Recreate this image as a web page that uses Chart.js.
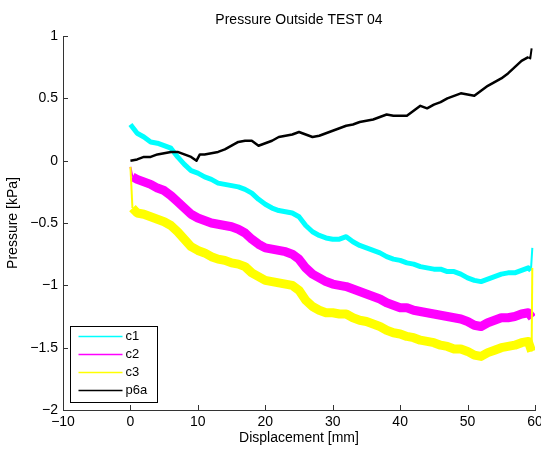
<!DOCTYPE html>
<html><head><meta charset="utf-8">
<script src="https://cdn.jsdelivr.net/npm/chart.js@4.4.0/dist/chart.umd.min.js"></script>
<style>html,body{margin:0;padding:0;background:#fff}canvas{display:block}</style>
</head><body>
<canvas id="c" width="541" height="449"></canvas>
<script>
const chartTitle = 'Pressure Outside TEST 04';
const xAxisTitle = 'Displacement [mm]';
const yAxisTitle = 'Pressure [kPa]';
const seriesNames = ['c1', 'c2', 'c3', 'p6a'];
const seriesColors = ['#00ffff', '#ff00ff', '#ffff00', '#000000'];
const xTicks = [-10, 0, 10, 20, 30, 40, 50, 60];
const yTicks = [-2, -1.5, -1, -0.5, 0, 0.5, 1];

const c1X = [0,1,2,3,4,5,6,7,8,9,10,11,12,13,14,15,16,17,18,19,20,21,22,23,24,25,26,27,28,29,30,31,32,33,34,35,36,37,38,39,40,41,42,43,44,45,46,47,48,49,50,51,52,53,54,55,56,57,58,59,59.4,59.6];
const c1Y = [0.29,0.22,0.19,0.15,0.14,0.12,0.10,0.03,-0.03,-0.08,-0.10,-0.13,-0.15,-0.18,-0.19,-0.20,-0.21,-0.23,-0.26,-0.31,-0.35,-0.38,-0.40,-0.41,-0.42,-0.45,-0.52,-0.57,-0.60,-0.62,-0.63,-0.63,-0.61,-0.65,-0.68,-0.70,-0.72,-0.74,-0.77,-0.79,-0.80,-0.82,-0.83,-0.85,-0.86,-0.87,-0.87,-0.89,-0.89,-0.91,-0.94,-0.96,-0.97,-0.95,-0.93,-0.91,-0.90,-0.90,-0.88,-0.86,-0.88,-0.70];

const c2X = [0,0.3,1,2,3,4,5,6,7,8,9,10,11,12,13,14,15,16,17,18,19,20,21,22,23,24,25,26,27,28,29,30,31,32,33,34,35,36,37,38,39,40,41,42,43,44,45,46,47,48,49,50,51,52,53,54,55,56,57,58,59,59.6];
const c2Y = [-0.05,-0.13,-0.15,-0.17,-0.19,-0.22,-0.24,-0.28,-0.33,-0.38,-0.43,-0.46,-0.48,-0.50,-0.51,-0.52,-0.53,-0.55,-0.58,-0.63,-0.67,-0.70,-0.71,-0.72,-0.73,-0.75,-0.79,-0.86,-0.91,-0.94,-0.97,-0.99,-1.00,-1.01,-1.03,-1.05,-1.07,-1.09,-1.11,-1.14,-1.16,-1.18,-1.18,-1.20,-1.21,-1.22,-1.23,-1.24,-1.25,-1.26,-1.27,-1.29,-1.32,-1.33,-1.30,-1.28,-1.26,-1.26,-1.25,-1.23,-1.22,-1.26];

const c3X = [0,0.3,1,2,3,4,5,6,7,8,9,10,11,12,13,14,15,16,17,18,19,20,21,22,23,24,25,26,27,28,29,30,31,32,33,34,35,36,37,38,39,40,41,42,43,44,45,46,47,48,49,50,51,52,53,54,55,56,57,58,59,59.5,59.6];
const c3Y = [-0.05,-0.38,-0.42,-0.43,-0.45,-0.47,-0.49,-0.52,-0.57,-0.63,-0.69,-0.72,-0.74,-0.77,-0.79,-0.80,-0.82,-0.83,-0.85,-0.90,-0.93,-0.96,-0.97,-0.98,-0.99,-1.00,-1.04,-1.12,-1.17,-1.20,-1.22,-1.22,-1.23,-1.23,-1.26,-1.28,-1.29,-1.31,-1.33,-1.36,-1.38,-1.39,-1.41,-1.42,-1.44,-1.45,-1.46,-1.48,-1.49,-1.51,-1.51,-1.53,-1.56,-1.57,-1.54,-1.52,-1.50,-1.49,-1.48,-1.46,-1.45,-1.53,-0.86];

const p6aX = [0,1,2,3,4,5,6,7,8,9,9.8,10.3,11,12,13,14,15,16,17,18,19,20,21,22,23,24,25,26,27,28,29,30,31,32,33,34,35,36,37,38,39,40,41,42,43,44,45,46,47,48,49,50,51,52,53,54,55,56,57,58,59,59.3,59.5];
const p6aY = [0.00,0.01,0.03,0.03,0.05,0.06,0.07,0.07,0.05,0.03,0.00,0.05,0.05,0.06,0.07,0.09,0.12,0.15,0.16,0.16,0.12,0.14,0.16,0.19,0.20,0.21,0.23,0.21,0.19,0.20,0.22,0.24,0.26,0.28,0.29,0.31,0.32,0.33,0.35,0.37,0.36,0.36,0.36,0.40,0.44,0.42,0.45,0.47,0.50,0.52,0.54,0.53,0.52,0.56,0.60,0.63,0.66,0.70,0.75,0.80,0.83,0.82,0.90];

const seriesX = [c1X, c2X, c3X, p6aX];
const seriesY = [c1Y, c2Y, c3Y, p6aY];
const lineWidths = [5, 9, 9, 2.5];

const FONT = '"Liberation Sans", Arial, sans-serif';
const fmt = v => String(v).replace('-', '\u2212');

const datasets = seriesNames.map((name, i) => ({
  label: name,
  data: seriesX[i].map((x, j) => ({x: x, y: seriesY[i][j]})),
  borderColor: seriesColors[i],
  backgroundColor: seriesColors[i],
  borderWidth: lineWidths[i],
  pointRadius: 0,
  tension: 0,
  fill: false,
  borderJoinStyle: 'round',
  borderCapStyle: 'butt',
  segment: {
    // thin single strokes where the trace jumps almost vertically
    borderWidth: ctx => {
      const dx = Math.abs(ctx.p1.parsed.x - ctx.p0.parsed.x);
      return dx < 0.35 ? 2 : lineWidths[i];
    }
  },
  order: 4 - i
}));

const decor = {
  id: 'decor',
  afterDraw(chart) {
    const ctx = chart.ctx, ca = chart.chartArea;
    const xs = chart.scales.x, ys = chart.scales.y;
    ctx.save();
    ctx.strokeStyle = '#333';
    ctx.lineWidth = 1;
    ctx.beginPath();
    xTicks.forEach(v => {
      const px = Math.round(xs.getPixelForValue(v)) + 0.5;
      ctx.moveTo(px, ca.bottom); ctx.lineTo(px, ca.bottom - 5);
    });
    yTicks.forEach(v => {
      const py = Math.round(ys.getPixelForValue(v)) + 0.5;
      ctx.moveTo(ca.left, py); ctx.lineTo(ca.left + 5, py);
    });
    ctx.stroke();
    ctx.fillStyle = '#000';
    ctx.font = '14px ' + FONT;
    ctx.textAlign = 'center';
    ctx.textBaseline = 'middle';
    ctx.fillText(chartTitle, (ca.left + ca.right) / 2, 20);
    const bx = ca.left + 7.5, bw = 87, bh = 76;
    const by = ca.bottom - 7.5 - bh;
    ctx.fillStyle = '#fff';
    ctx.fillRect(bx, by, bw, bh);
    ctx.strokeStyle = '#000';
    ctx.lineWidth = 1;
    ctx.strokeRect(bx, by, bw, bh);
    ctx.font = '13px ' + FONT;
    ctx.textAlign = 'left';
    chart.data.datasets.forEach((ds, i) => {
      const y = by + 10 + i * 18;
      ctx.strokeStyle = ds.borderColor;
      ctx.lineWidth = 1.5;
      ctx.beginPath();
      ctx.moveTo(bx + 8, y); ctx.lineTo(bx + 52, y);
      ctx.stroke();
      ctx.fillStyle = '#000';
      ctx.fillText(ds.label, bx + 55, y);
    });
    ctx.restore();
  }
};

new Chart(document.getElementById('c'), {
  type: 'line',
  data: { datasets: datasets },
  options: {
    responsive: false,
    animation: false,
    layout: { padding: { top: 36, left: 5, right: 0, bottom: 2 } },
    plugins: { legend: { display: false }, tooltip: { enabled: false }, title: { display: false } },
    scales: {
      x: {
        type: 'linear', min: -10, max: 60,
        afterBuildTicks: s => { s.ticks = xTicks.map(v => ({value: v})); },
        afterFit: s => { s.height = 37; s.paddingRight = 6; },
        grid: { display: false, drawTicks: false, tickLength: 0 },
        border: { display: true, color: '#333', width: 1 },
        ticks: { color: '#000', font: { family: FONT, size: 14 }, padding: 4, maxRotation: 0, autoSkip: false, callback: v => fmt(v) },
        title: { display: true, text: xAxisTitle, color: '#000', font: { family: FONT, size: 14 }, padding: 0 }
      },
      y: {
        type: 'linear', min: -2, max: 1,
        afterBuildTicks: s => { s.ticks = yTicks.map(v => ({value: v})); },
        afterFit: s => { s.width = 58; },
        grid: { display: false, drawTicks: false, tickLength: 0 },
        border: { display: true, color: '#333', width: 1 },
        ticks: { color: '#000', font: { family: FONT, size: 14 }, padding: 5, autoSkip: false, callback: v => fmt(v) },
        title: { display: true, text: yAxisTitle, color: '#000', font: { family: FONT, size: 14 }, padding: 0 }
      }
    }
  },
  plugins: [decor]
});
</script>
</body></html>
